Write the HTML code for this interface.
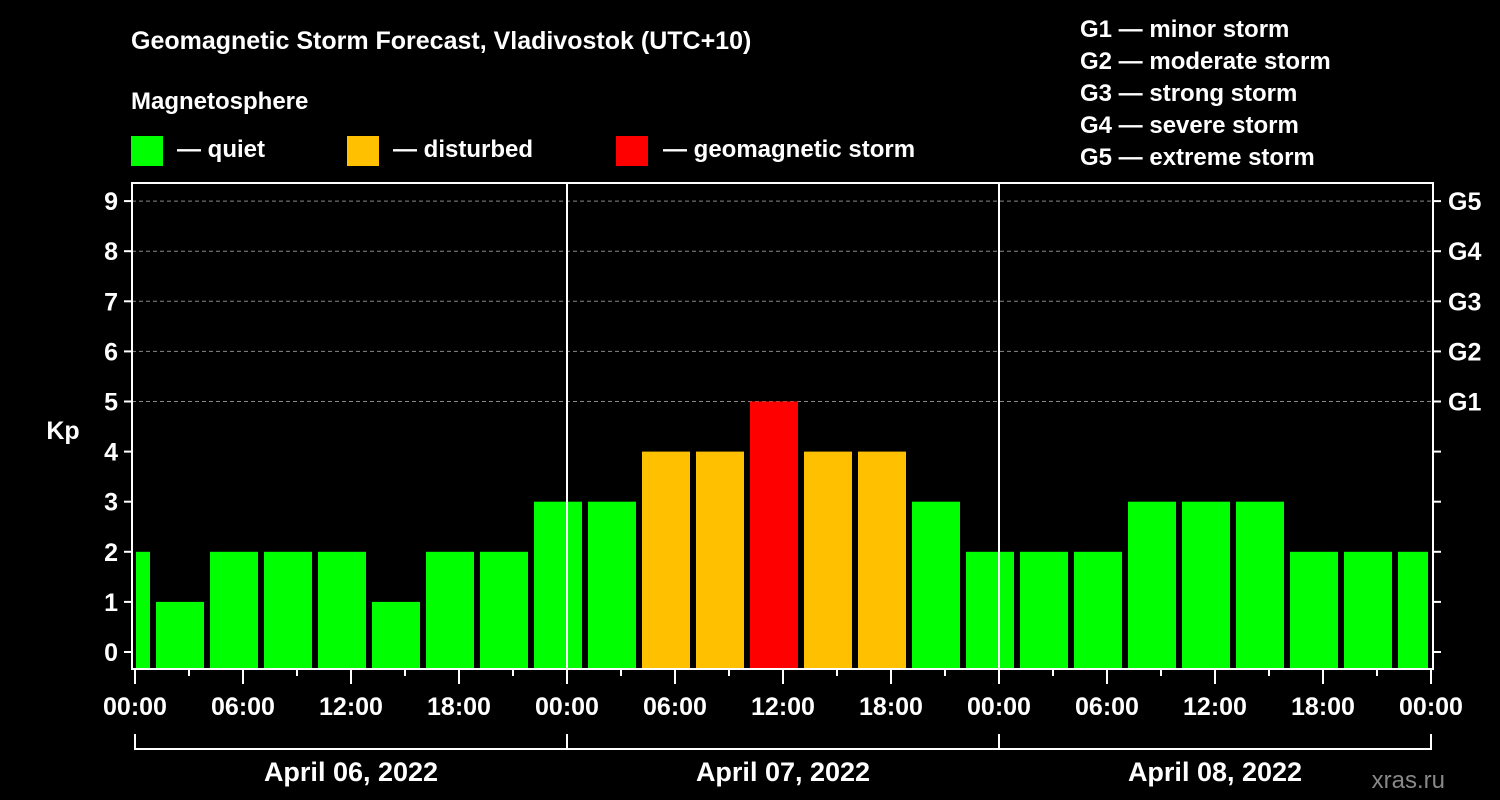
<!DOCTYPE html>
<html><head><meta charset="utf-8"><style>
html,body{margin:0;padding:0;background:#000;}
svg{display:block;font-family:"Liberation Sans",Arial,sans-serif;font-weight:bold;}
</style></head><body>
<svg id="chart" width="1500" height="800" viewBox="0 0 1500 800">
<rect width="1500" height="800" fill="#000"/>
<text x="131" y="49" fill="#fff" font-size="25">Geomagnetic Storm Forecast, Vladivostok (UTC+10)</text>
<text x="131" y="109" fill="#fff" font-size="24">Magnetosphere</text>
<g><rect x="131" y="136" width="32" height="30" fill="#00ff00"/><text x="177" y="157" fill="#fff" font-size="24">— quiet</text></g>
<g><rect x="347" y="136" width="32" height="30" fill="#ffc000"/><text x="393" y="157" fill="#fff" font-size="24">— disturbed</text></g>
<g><rect x="616" y="136" width="32" height="30" fill="#ff0000"/><text x="663" y="157" fill="#fff" font-size="24">— geomagnetic storm</text></g>
<g fill="#fff" font-size="24">
<text x="1080" y="37">G1 — minor storm</text>
<text x="1080" y="69">G2 — moderate storm</text>
<text x="1080" y="101">G3 — strong storm</text>
<text x="1080" y="133">G4 — severe storm</text>
<text x="1080" y="165">G5 — extreme storm</text>
</g>
<text x="63" y="439" fill="#fff" font-size="25" text-anchor="middle">Kp</text>
<text x="1445" y="788" fill="#888" font-size="24" text-anchor="end" font-weight="normal">xras.ru</text>
<g id="grid"></g><g id="bars"></g><g id="axes"></g>
</svg>
<script>
// Kp values per 3-hour interval; intervals start at hour -2 (clipped to chart range 0..72)
const kpValues = [2,1,2,2,2,1,2,2,3,3,4,4,5,4,4,3,2,2,2,3,3,3,2,2,2];
const firstStartHour = -2;
const kpTicks = [0,1,2,3,4,5,6,7,8,9];
const gLabels = ["G1","G2","G3","G4","G5"];
const timeLabels = ["00:00","06:00","12:00","18:00","00:00","06:00","12:00","18:00","00:00","06:00","12:00","18:00","00:00"];
const dayLabels = ["April 06, 2022","April 07, 2022","April 08, 2022"];

const NS="http://www.w3.org/2000/svg";
const X0=135, X1=1431, HOURS=72;
const xs=h=>X0+(X1-X0)*h/HOURS;
const ys=v=>652-50.1*v;
const PT=183, PB=669, PL=132, PR=1433;
function mk(tag,attrs,parent,text){const e=document.createElementNS(NS,tag);for(const k in attrs)e.setAttribute(k,attrs[k]);if(text!=null)e.textContent=text;parent.appendChild(e);return e;}
const grid=document.getElementById('grid'),bars=document.getElementById('bars'),axes=document.getElementById('axes');
for(let v=5;v<=9;v++){
  const l=mk('line',{x1:PL,x2:PR,y1:ys(v),y2:ys(v),stroke:'#888','stroke-dasharray':'4,3','stroke-width':1},grid);
  
  
}
kpValues.forEach((v,i)=>{
  let h0=firstStartHour+3*i,h1=h0+3;
  let a=Math.max(xs(h0),X0)+3, b=Math.min(xs(h1),X1)-3;
  if(h0<0)a=X0+1; if(h1>HOURS)b=X1-3;
  const col=v>=5?'#ff0000':(v>=4?'#ffc000':'#00ff00');
  const r=mk('rect',{x:a,y:ys(v),width:b-a,height:PB-1-ys(v),fill:col},bars);
  
  
});
// day separators
[24,48].forEach(h=>{
  const l=mk('line',{x1:xs(h),x2:xs(h),y1:PT,y2:PB,stroke:'#fff','stroke-width':2},axes);
  
  
});
const frame=mk('rect',{x:PL,y:PT,width:PR-PL,height:PB-PT,fill:'none',stroke:'#fff','stroke-width':2},axes);


kpTicks.forEach(v=>{
  mk('line',{x1:PL-8,x2:PL,y1:ys(v),y2:ys(v),stroke:'#fff','stroke-width':2},axes);
  mk('line',{x1:PR,x2:PR+8,y1:ys(v),y2:ys(v),stroke:'#fff','stroke-width':2},axes);
  const t=mk('text',{x:PL-14,y:ys(v)+9,fill:'#fff','font-size':25,'text-anchor':'end'},axes,String(v));
  
  
});
gLabels.forEach((g,i)=>{
  const t=mk('text',{x:1448,y:ys(5+i)+9,fill:'#fff','font-size':25},axes,g);
  
  
});
for(let h=0;h<=HOURS;h+=3){
  const major=h%6===0;
  mk('line',{x1:xs(h),x2:xs(h),y1:PB,y2:PB+(major?15:7),stroke:'#fff','stroke-width':2},axes);
}
timeLabels.forEach((s,i)=>{
  const t=mk('text',{x:xs(i*6),y:715,fill:'#fff','font-size':25,'text-anchor':'middle'},axes,s);
  
  
});
mk('line',{x1:xs(0),x2:xs(72),y1:749,y2:749,stroke:'#fff','stroke-width':2},axes);
for(let d=0;d<=3;d++) mk('line',{x1:xs(d*24),x2:xs(d*24),y1:734,y2:750,stroke:'#fff','stroke-width':2},axes);
dayLabels.forEach((s,i)=>{
  const t=mk('text',{x:xs(i*24+12),y:781,fill:'#fff','font-size':27,'text-anchor':'middle'},axes,s);
  
  
});
</script>
</body></html>
